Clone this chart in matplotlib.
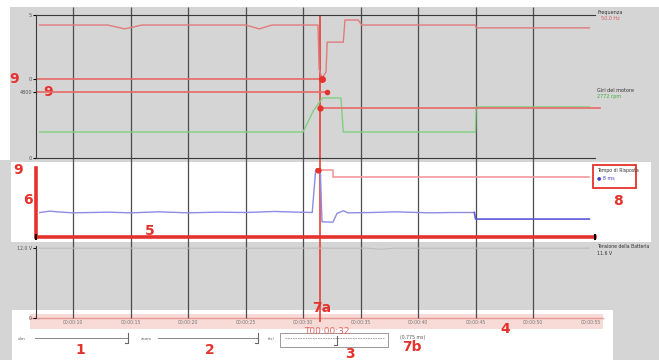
import matplotlib
matplotlib.use('Agg')
from matplotlib import pyplot as plt
from matplotlib.patches import Rectangle

W, H = 659, 360

# time axis (seconds)
tick_times = [10, 15, 20, 25, 30, 35, 40, 45, 50, 55]
tick_labels = ['00:00:10', '00:00:15', '00:00:20', '00:00:25', '00:00:30',
               '00:00:35', '00:00:40', '00:00:45', '00:00:50', '00:00:55']
T0, T1 = 6.78, 55.39
cursor_t = 31.5

# top panel: frequency (panel units 0..100)
freq_t = [7.1, 13.0, 14.5, 16.0, 25.0, 26.2, 27.3, 31.3, 31.4, 31.65, 32.0, 32.1,
          33.5, 33.65, 34.8, 35.1, 45.0, 45.05, 54.9]
freq_v = [93, 93, 90.3, 93, 93, 90.3, 93, 93, 62, 56, 60, 81,
          81, 96.5, 96.5, 93, 93, 91, 91]

# top panel: motor rpm (panel units)
rpm_t = [7.1, 30.0, 30.9, 31.7, 33.3, 33.5, 45.0, 45.05, 54.9]
rpm_v = [18.2, 18.2, 33, 42, 42, 18.2, 18.2, 35.7, 35.7]

# middle panel: response time (panel units)
resp_t = [7.1, 8.0, 8.6, 10.0, 13.0, 15.0, 17.5, 20.0, 22.5, 25.0, 27.5, 29.5,
          30.8, 31.1, 31.5, 31.65, 32.6, 32.95, 33.5, 33.9, 36.0, 38.0, 41.0,
          43.0, 44.9, 45.0, 54.9]
resp_v = [35.5, 37.5, 36.5, 35, 36, 35, 36.5, 35, 36, 35.5, 37, 36,
          35.5, 97, 97, 22, 21.5, 34, 38, 35, 35.5, 36.5, 35,
          35.5, 35.5, 26, 26]
step_t = [31.4, 32.6, 32.6, 54.9]
step_v = [97, 97, 87, 87]

# bottom panel: battery voltage (panel units)
batt_t = [7.1, 30.0, 35.5, 36.8, 38.0, 54.9]
batt_v = [97, 97, 97, 95.5, 97, 97]

# markers / annotations
freq_min = (31.65, 55.5)
rpm_mark = (32.1, 46.2)
rpm_new = (31.5, 35.0)
resp_peak = (31.3, 97)

RED = '#e5322c'
GRID = '#4d4d4d'
BG = '#d5d5d5'

fig = plt.figure(figsize=(W / 100, H / 100), dpi=100)
fig.patch.set_facecolor(BG)

bg = fig.add_axes([0, 0, 1, 1])
bg.set_xlim(0, W)
bg.set_ylim(H, 0)
bg.axis('off')
bg.add_patch(Rectangle((0, 0), W, 7, color='white', lw=0))
bg.add_patch(Rectangle((0, 0), 10, 160, color='white', lw=0))
bg.add_patch(Rectangle((11, 162), 640, 80, color='white', lw=0))
bg.add_patch(Rectangle((12, 310), 601, 50, color='white', lw=0))
bg.add_patch(Rectangle((30, 314), 573, 15, color='#f8dad6', lw=0))
bg.plot([30, 603], [318, 318], color='#e69a94', lw=1)


def px_axes(x0, y0, x1, y1):
    return fig.add_axes([x0 / W, 1 - y1 / H, (x1 - x0) / W, (y1 - y0) / H])


# overlay for grid and cursor: x in time, y in pixels
ov = px_axes(36, 0, 595, H)
ov.set_xlim(T0, T1)
ov.set_ylim(H, 0)
ov.axis('off')
ov.patch.set_alpha(0)
ov.vlines(tick_times[:-1], 7, 318, color=GRID, lw=0.9)
ov.vlines(cursor_t, 15, 322, color=RED, lw=1.1)

# ---- top panel
ax1 = px_axes(36, 15, 595, 158)
ax1.patch.set_alpha(0)
ax1.set_xlim(T0, T1)
ax1.set_ylim(0, 100)
ax1.plot(freq_t, freq_v, color='#e27b7b', lw=1)
ax1.plot(rpm_t, rpm_v, color='#7fd07f', lw=1)
ax1.plot([T0, freq_min[0]], [freq_min[1]] * 2, color='#e86a6a', lw=1.2)
ax1.plot(*freq_min, 'o', color=RED, ms=4)
ax1.plot([T0, rpm_mark[0]], [rpm_mark[1]] * 2, color='#e86a6a', lw=1.2)
ax1.plot(*rpm_mark, 'o', color=RED, ms=3)
ax1.plot([rpm_new[0], T1 + 0.4], [rpm_new[1]] * 2, color='#e86a6a', lw=1.2, clip_on=False)
ax1.plot(*rpm_new, 'o', color=RED, ms=3.5)
ax1.set_xticks([])
ax1.set_yticks([0, 46.2, 55.5, 100], ['0', '4800', '0', '5'])
ax1.tick_params(axis='y', length=2, labelsize=3.5, labelcolor='#555', pad=1)
for s in ['top', 'bottom', 'left']:
    ax1.spines[s].set_color('#3a3a3a')
ax1.spines['right'].set_visible(False)

# ---- middle panel
ax2 = px_axes(36, 168, 595, 237)
ax2.patch.set_alpha(0)
ax2.set_xlim(T0, T1)
ax2.set_ylim(0, 100)
ax2.plot(resp_t[:-2], resp_v[:-2], color='#8c8ce6', lw=1)
ax2.plot(resp_t[-3:], resp_v[-3:], color='#5a5ad8', lw=1.2)
ax2.plot(step_t, step_v, color='#f29a9a', lw=1.2)
ax2.plot(*resp_peak, 'o', color=RED, ms=3.5)
ax2.axhline(0, color=RED, lw=2.6, clip_on=False)
ax2.axvline(T0, color=RED, lw=2.6, clip_on=False)
ax2.plot([T0, T1], [0, 0], '|', color='black', ms=5, mew=1.5, clip_on=False)
ax2.set_xticks([])
ax2.set_yticks([])
for s in ax2.spines.values():
    s.set_visible(False)

# ---- bottom panel
ax3 = px_axes(36, 246, 595, 318)
ax3.patch.set_alpha(0)
ax3.set_xlim(T0, T1)
ax3.set_ylim(0, 100)
ax3.plot(batt_t, batt_v, color='#bdbdbd', lw=0.8)
ax3.set_xticks(tick_times, tick_labels)
ax3.set_yticks([0, 97], ['0', '12.0 V'])
ax3.tick_params(axis='x', length=0, labelsize=3.3, labelcolor='#777', pad=1.5)
ax3.tick_params(axis='y', length=2, labelsize=3.3, labelcolor='#555', pad=1)
ax3.spines['left'].set_color('#3a3a3a')
for s in ['top', 'right', 'bottom']:
    ax3.spines[s].set_visible(False)

# ---- series labels on the right
bg.text(597, 14, 'Frequenza', fontsize=3.5, color='#333')
bg.text(601, 20, '50.0 Hz', fontsize=3.5, color='#d86060')
bg.text(597, 92, 'Giri del motore', fontsize=3.5, color='#333')
bg.text(597, 98, '2772 rpm', fontsize=3.5, color='#40b040')
bg.add_patch(Rectangle((593, 165), 43, 23, fill=False, ec=RED, lw=1.3))
bg.text(597, 172, 'Tempo di Risposta', fontsize=3.3, color='#333')
bg.text(597, 179, '\u25cf 8 ms', fontsize=3.5, color='#4040c8')
bg.text(597, 248, 'Tensione della Batteria', fontsize=3.3, color='#333')
bg.text(597, 255, '11.6 V', fontsize=3.3, color='#333')

# ---- slider panel
slider_x = [(35, 128), (158, 258)]
for (a, b), name in zip(slider_x, ['dim', 'zoom']):
    bg.text(a - 17, 339, name, fontsize=3, color='#666', va='center')
    bg.plot([a, b], [338, 338], color='#888', lw=0.7)
    bg.plot([b, b, b - 3], [333, 343, 343], color='#666', lw=0.8)
bg.text(268, 339, 't(s)', fontsize=3, color='#666', va='center')
bg.add_patch(Rectangle((280, 333), 108, 14, fill=False, ec='#999', lw=0.7))
bg.plot([285, 384], [338, 338], color='#999', lw=0.6, ls=(0, (2, 1)))
bg.plot([337, 337, 334], [336, 345, 345], color='#666', lw=0.8)
bg.text(400, 337, '(0.775 ms)', fontsize=3.3, color='#555', va='center')
bg.text(327, 331.5, 'T00:00:32', fontsize=6.5, color='#e46a66', ha='center', va='center')

# ---- red callout numbers
callouts = [('9', 14, 79), ('9', 48, 92), ('9', 18, 170), ('6', 28, 200),
            ('5', 150, 231), ('8', 618, 201), ('7a', 322, 308), ('4', 505, 329),
            ('1', 80, 350), ('2', 210, 350), ('3', 350, 353.5), ('7b', 412, 347)]
for txt, x, y in callouts:
    bg.text(x, y, txt, fontsize=10, fontweight='bold', color=RED,
            ha='center', va='center')

fig.savefig('out.png', dpi=100, facecolor=fig.get_facecolor())
